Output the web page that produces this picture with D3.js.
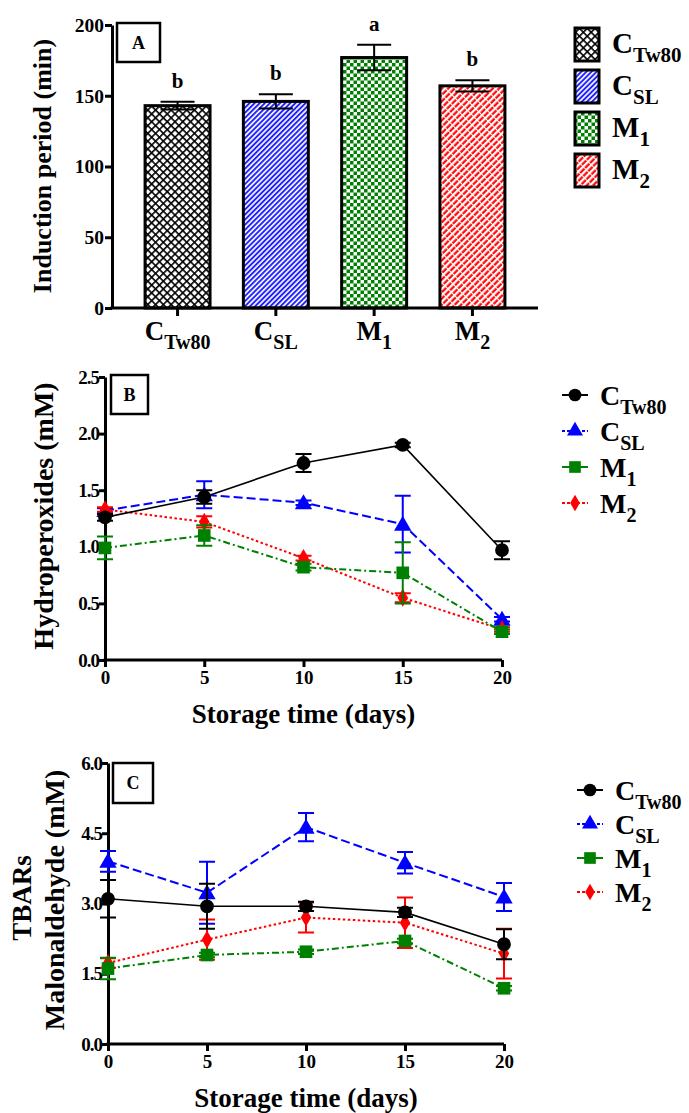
<!doctype html>
<html>
<head>
<meta charset="UTF-8">
<script src="https://d3js.org/d3.v7.min.js"></script>
<style>
  body { margin: 0; background: #fff; }
  svg text { font-family: "Liberation Serif", "Times New Roman", Tinos, "DejaVu Serif", "Noto Serif", serif !important; font-weight: bold; }
</style>
</head>
<body>
<svg id="chart" width="689" height="1113"></svg>
<script>
// ---- data ----
var groups = ["CTw80", "CSL", "M1", "M2"];
var mainLabels = ["C", "C", "M", "M"];
var subLabels = ["Tw80", "SL", "1", "2"];

// panel A: induction period (min)
var inductionMean = [143, 146, 177, 157];
var inductionErr = [2.7, 5, 9, 4];
var sigLetters = ["b", "b", "a", "b"];
var inductionTicks = [0, 50, 100, 150, 200];

// panels B and C: storage time
var days = [0, 5, 10, 15, 20];

var hydroCTw80 = [1.26, 1.44, 1.74, 1.90, 0.97];
var hydroCTw80Err = [0.03, 0.06, 0.08, 0.02, 0.08];
var hydroCSL = [1.32, 1.46, 1.39, 1.20, 0.36];
var hydroCSLErr = [0.02, 0.12, 0.02, 0.25, 0.02];
var hydroM1 = [0.99, 1.10, 0.82, 0.77, 0.25];
var hydroM1Err = [0.10, 0.09, 0.03, 0.27, 0.02];
var hydroM2 = [1.33, 1.22, 0.90, 0.55, 0.27];
var hydroM2Err = [0.02, 0.05, 0.02, 0.04, 0.02];
var hydroTicks = [0, 0.5, 1.0, 1.5, 2.0, 2.5];

var tbarsCTw80 = [3.10, 2.94, 2.94, 2.81, 2.13];
var tbarsCTw80Err = [0.40, 0.48, 0.10, 0.10, 0.32];
var tbarsCSL = [3.90, 3.23, 4.63, 3.87, 3.14];
var tbarsCSLErr = [0.22, 0.66, 0.30, 0.23, 0.30];
var tbarsM1 = [1.61, 1.90, 1.97, 2.20, 1.19];
var tbarsM1Err = [0.23, 0.05, 0.05, 0.05, 0.05];
var tbarsM2 = [1.73, 2.23, 2.70, 2.59, 1.93];
var tbarsM2Err = [0.10, 0.43, 0.32, 0.54, 0.53];
var tbarsTicks = [0, 1.5, 3.0, 4.5, 6.0];

var colors = {CTw80: "#000000", CSL: "#0000ff", M1: "#008000", M2: "#ff0000"};
var dashes = {CTw80: null, CSL: "9,4", M1: "7,3,2,3", M2: "2.5,2.5"};
var shapes = {CTw80: d3.symbolCircle, CSL: d3.symbolTriangle, M1: d3.symbolSquare, M2: d3.symbolDiamond};
var shapeSize = {CTw80: 150, CSL: 130, M1: 160, M2: 95};

var svg = d3.select("#chart");
var defs = svg.append("defs");

// ---- fill patterns for the bars ----
var p = defs.append("pattern").attr("id", "pat-CTw80").attr("patternUnits", "userSpaceOnUse")
  .attr("width", 5.5).attr("height", 5.5).attr("patternTransform", "rotate(45)");
p.append("rect").attr("width", 5.5).attr("height", 5.5).attr("fill", "#fff");
p.append("path").attr("d", "M0,0 L5.5,0 M0,0 L0,5.5").attr("stroke", "#000").attr("stroke-width", 3.2);

p = defs.append("pattern").attr("id", "pat-CSL").attr("patternUnits", "userSpaceOnUse")
  .attr("width", 3.6).attr("height", 6).attr("patternTransform", "rotate(45)");
p.append("rect").attr("width", 3.6).attr("height", 6).attr("fill", "#fff");
p.append("path").attr("d", "M1,0 L1,6").attr("stroke", "#1a1aff").attr("stroke-width", 1.9);

p = defs.append("pattern").attr("id", "pat-M1").attr("patternUnits", "userSpaceOnUse")
  .attr("width", 7).attr("height", 7);
p.append("rect").attr("width", 7).attr("height", 7).attr("fill", "#fff");
p.append("rect").attr("width", 3.5).attr("height", 3.5).attr("fill", "#008000");
p.append("rect").attr("x", 3.5).attr("y", 3.5).attr("width", 3.5).attr("height", 3.5).attr("fill", "#008000");

p = defs.append("pattern").attr("id", "pat-M2").attr("patternUnits", "userSpaceOnUse")
  .attr("width", 4.5).attr("height", 7).attr("patternTransform", "rotate(45)");
p.append("rect").attr("width", 4.5).attr("height", 7).attr("fill", "#fff");
p.append("path").attr("d", "M1.5,0 L1.5,6").attr("stroke", "#ff0000").attr("stroke-width", 2.2);

// helper: text with subscript
function subText(sel, x, y, main, sub, size, subSize, anchor) {
  var t = sel.append("text").attr("x", x).attr("y", y).attr("font-size", size)
    .attr("text-anchor", anchor || "start");
  t.append("tspan").text(main);
  t.append("tspan").attr("font-size", subSize).attr("dy", size * 0.32).text(sub);
  return t;
}

function styleAxis(g, size) {
  g.attr("font-family", null);
  g.select(".domain").attr("stroke", "#000").attr("stroke-width", 3);
  g.selectAll(".tick line").attr("stroke", "#000").attr("stroke-width", 3);
  g.selectAll(".tick text").attr("font-size", size).attr("fill", "#000");
}

function panelBox(x, y, w, h, label) {
  svg.append("rect").attr("x", x).attr("y", y).attr("width", w).attr("height", h)
    .attr("fill", "#fff").attr("stroke", "#000").attr("stroke-width", 2.5);
  svg.append("text").attr("x", x + w / 2).attr("y", y + h / 2 + 6).attr("text-anchor", "middle")
    .attr("font-size", 18).text(label);
}

// ================= Panel A =================
var xA = d3.scaleBand().domain(groups).range([112, 538]).paddingInner(0.339).paddingOuter(0.3365);
var yA = d3.scaleLinear().domain([0, 200]).range([308, 25]);

svg.append("g").selectAll("rect").data(groups).join("rect")
  .attr("x", function(d) { return xA(d); })
  .attr("y", function(d, i) { return yA(inductionMean[i]); })
  .attr("width", xA.bandwidth())
  .attr("height", function(d, i) { return yA(0) - yA(inductionMean[i]); })
  .attr("fill", function(d) { return "url(#pat-" + d + ")"; })
  .attr("stroke", "#000").attr("stroke-width", 3);

var errA = svg.append("g").attr("stroke", "#000").attr("stroke-width", 2);
groups.forEach(function(d, i) {
  var cx = xA(d) + xA.bandwidth() / 2;
  var top = yA(inductionMean[i] + inductionErr[i]), bot = yA(inductionMean[i] - inductionErr[i]);
  errA.append("line").attr("x1", cx).attr("x2", cx).attr("y1", top).attr("y2", bot);
  errA.append("line").attr("x1", cx - 17).attr("x2", cx + 17).attr("y1", top).attr("y2", top);
  errA.append("line").attr("x1", cx - 17).attr("x2", cx + 17).attr("y1", bot).attr("y2", bot);
  svg.append("text").attr("x", cx).attr("y", top - 14).attr("text-anchor", "middle")
    .attr("font-size", 21).text(sigLetters[i]);
});

var axA = svg.append("g").attr("transform", "translate(112,0)")
  .call(d3.axisLeft(yA).tickValues(inductionTicks).tickSize(7).tickSizeOuter(0).tickPadding(1));
styleAxis(axA, 19.5);

svg.append("line").attr("x1", 110.5).attr("x2", 538).attr("y1", 308).attr("y2", 308)
  .attr("stroke", "#000").attr("stroke-width", 3);
groups.forEach(function(d, i) {
  var cx = xA(d) + xA.bandwidth() / 2;
  svg.append("line").attr("x1", cx).attr("x2", cx).attr("y1", 308).attr("y2", 316)
    .attr("stroke", "#000").attr("stroke-width", 3);
  subText(svg, cx, 340, mainLabels[i], subLabels[i], 27, 20, "middle");
});

svg.append("text").attr("transform", "translate(51,166) rotate(-90)").attr("text-anchor", "middle")
  .attr("font-size", 26).text("Induction period (min)");
panelBox(117, 23, 43, 39, "A");

// legend A
groups.forEach(function(d, i) {
  var y = 28 + i * 42;
  svg.append("rect").attr("x", 575).attr("y", y).attr("width", 24).attr("height", 33)
    .attr("fill", "url(#pat-" + d + ")").attr("stroke", "#000").attr("stroke-width", 3);
  subText(svg, 612, y + 25, mainLabels[i], subLabels[i], 29, 21);
});

// ================= line panels =================
function linePanel(opt) {
  var x = d3.scaleLinear().domain([0, 20]).range([opt.x0, opt.x1]);
  var y = d3.scaleLinear().domain(opt.yDomain).range([opt.y0, opt.y1]);

  var ax = svg.append("g").attr("transform", "translate(" + opt.x0 + ",0)")
    .call(d3.axisLeft(y).tickValues(opt.ticks).tickFormat(d3.format(".1f")).tickSize(6).tickSizeOuter(0).tickPadding(0));
  styleAxis(ax, 19);
  ax.selectAll(".tick text").attr("letter-spacing", -1);

  var bx = svg.append("g").attr("transform", "translate(0," + opt.y0 + ")")
    .call(d3.axisBottom(x).tickValues(days).tickSize(7).tickSizeOuter(0).tickPadding(4));
  styleAxis(bx, 19);
  bx.select(".domain").attr("d", "M" + (opt.x0 - 1.5) + ",0H" + opt.x1);

  var order = ["CSL", "M2", "M1", "CTw80"];
  order.forEach(function(k) {
    var vals = opt.series[k], errs = opt.errors[k];
    var g = svg.append("g");
    var ln = d3.line().x(function(d, i) { return x(days[i]); }).y(function(d) { return y(d); });
    g.append("path").attr("d", ln(vals)).attr("fill", "none").attr("stroke", colors[k])
      .attr("stroke-width", k === "CTw80" ? 1.6 : 2).attr("stroke-dasharray", dashes[k]);
    vals.forEach(function(v, i) {
      var cx = x(days[i]), t = y(v + errs[i]), b = y(v - errs[i]);
      g.append("path").attr("d", "M" + cx + "," + t + "V" + b + "M" + (cx - 8) + "," + t + "H" + (cx + 8) +
        "M" + (cx - 8) + "," + b + "H" + (cx + 8)).attr("stroke", colors[k]).attr("stroke-width", 2).attr("fill", "none");
      g.append("path").attr("d", d3.symbol(shapes[k], shapeSize[k])())
        .attr("transform", "translate(" + cx + "," + (y(v) + (k === "CSL" ? 1.5 : 0)) + ")")
        .attr("fill", colors[k]);
    });
  });

  svg.append("text").attr("x", (opt.x0 + opt.x1) / 2).attr("y", opt.y0 + 63).attr("text-anchor", "middle")
    .attr("font-size", 27).text("Storage time (days)");

  // legend
  groups.forEach(function(k, i) {
    var ly = opt.legY + i * opt.legStep;
    svg.append("line").attr("x1", opt.legX - 13).attr("x2", opt.legX + 13).attr("y1", ly).attr("y2", ly)
      .attr("stroke", colors[k]).attr("stroke-width", 2).attr("stroke-dasharray", k === "CTw80" || k === "M1" ? null : "3,2");
    svg.append("path").attr("d", d3.symbol(shapes[k], shapeSize[k] * 0.85)())
      .attr("transform", "translate(" + opt.legX + "," + ly + ")").attr("fill", colors[k]);
    subText(svg, opt.legX + 25, ly + 10, mainLabels[i], subLabels[i], 28, 20);
  });
}

// Panel B
linePanel({
  x0: 105, x1: 502, y0: 660, y1: 377, yDomain: [0, 2.5], ticks: hydroTicks,
  series: {CTw80: hydroCTw80, CSL: hydroCSL, M1: hydroM1, M2: hydroM2},
  errors: {CTw80: hydroCTw80Err, CSL: hydroCSLErr, M1: hydroM1Err, M2: hydroM2Err},
  legX: 575, legY: 395, legStep: 36
});
svg.append("text").attr("transform", "translate(53,516) rotate(-90)").attr("text-anchor", "middle")
  .attr("font-size", 28).text("Hydroperoxides (mM)");
panelBox(111, 375, 37, 39, "B");

// Panel C
linePanel({
  x0: 108, x1: 504, y0: 1044, y1: 763, yDomain: [0, 6], ticks: tbarsTicks,
  series: {CTw80: tbarsCTw80, CSL: tbarsCSL, M1: tbarsM1, M2: tbarsM2},
  errors: {CTw80: tbarsCTw80Err, CSL: tbarsCSLErr, M1: tbarsM1Err, M2: tbarsM2Err},
  legX: 590, legY: 790, legStep: 34
});
svg.append("text").attr("transform", "translate(31,898) rotate(-90)").attr("text-anchor", "middle")
  .attr("font-size", 27).text("TBARs");
svg.append("text").attr("transform", "translate(64,900) rotate(-90)").attr("text-anchor", "middle")
  .attr("font-size", 28).text("Malonaldehyde (mM)");
panelBox(113, 763, 40, 40, "C");
</script>
</body>
</html>
